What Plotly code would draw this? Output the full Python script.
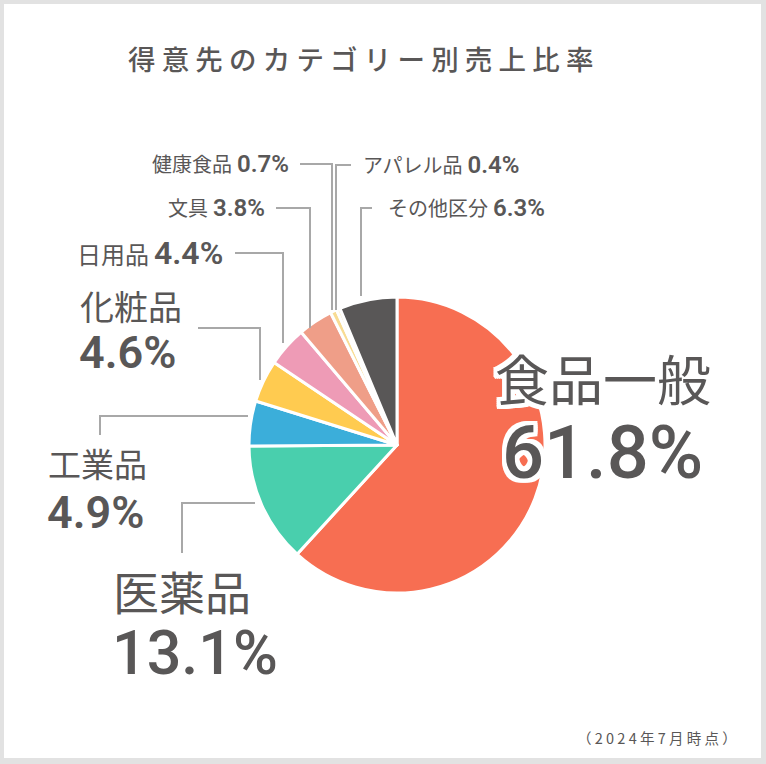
import plotly.graph_objects as go

W, H = 766, 764

# ---- data ----
categories = ["食品一般", "医薬品", "工業品", "化粧品", "日用品", "文具", "健康食品", "アパレル品", "その他区分"]
shares = [61.8, 13.1, 4.9, 4.6, 4.4, 3.8, 0.7, 0.4, 6.3]
colors = ["#F76E52", "#49CFAD", "#3BAEDA", "#FFCB50", "#EE9BB6", "#EF9E88", "#F8DC93", "#FCEFC6", "#595757"]
title_text = "得意先のカテゴリー別売上比率"
note_text = "（2024年7月時点）"

TXT = "#595757"
LINE = "#A8A8A8"
JP = "Noto Sans CJK JP"
NUM = "Roboto, Noto Sans CJK JP"


def px(x):
    return x / W


def py(y):
    return 1 - y / H


fig = go.Figure(go.Pie(
    labels=categories,
    values=shares,
    sort=False,
    direction="clockwise",
    rotation=0,
    marker=dict(colors=colors, line=dict(color="white", width=3)),
    textinfo="none",
    hoverinfo="skip",
    showlegend=False,
    domain=dict(x=[px(249), px(545)], y=[py(593), py(297)]),
))

shapes = [dict(type="rect", xref="paper", yref="paper", x0=px(4), x1=px(761), y0=py(758), y1=py(4),
               fillcolor="white", line=dict(width=0), layer="below")]


def leader(points):
    path = "M " + " L ".join(f"{px(x)},{py(y)}" for x, y in points)
    shapes.append(dict(type="path", xref="paper", yref="paper", path=path,
                       line=dict(color=LINE, width=2)))


leader([(300, 164), (332, 164), (332, 310)])   # 健康食品
leader([(351, 165), (336, 165), (336, 310)])   # アパレル品
leader([(276, 208), (310, 208), (310, 328)])   # 文具
leader([(235, 253), (283, 253), (283, 343)])   # 日用品
leader([(372, 208), (361, 208), (361, 296)])   # その他区分
leader([(198, 328), (260, 328), (260, 380)])   # 化粧品
leader([(248, 416), (100, 416), (100, 435)])   # 工業品
leader([(255, 503), (182, 503), (182, 553)])   # 医薬品

ann = []


def label(x, y, text, anchor, size=20, family=NUM, weight=None, shadow=None):
    f = dict(family=family, size=size, color=TXT)
    if weight:
        f["weight"] = weight
    if shadow:
        f["shadow"] = shadow
    ann.append(dict(x=px(x), y=py(y), xref="paper", yref="paper", text=text, showarrow=False,
                    xanchor=anchor, yanchor="middle", font=f))


def pct(v):
    return f"{v:.1f}%"


def small(name, v, jp_size, num_size):
    return (f"<span style='font-size:{jp_size}px'>{name}</span> "
            f"<span style='font-size:{num_size}px;font-weight:600'>{pct(v)}</span>")


# title
ann.append(dict(x=px(360), y=py(58), xref="paper", yref="paper", text=" ".join(title_text),
                showarrow=False, xanchor="center", yanchor="middle",
                font=dict(family=JP, size=27.5, color="#595757", weight=500)))
# footnote
ann.append(dict(x=px(739), y=py(737), xref="paper", yref="paper", text=" ".join(note_text),
                showarrow=False, xanchor="right", yanchor="middle",
                font=dict(family=JP, size=14.5, color="#595757")))

# small labels
label(291, 164, small(categories[6], shares[6], 20, 24), "right")
label(267, 208, small(categories[5], shares[5], 20, 24), "right")
label(225, 253, small(categories[4], shares[4], 24, 32), "right")
label(361, 165, small(categories[7], shares[7], 20, 24), "left")
label(386, 208, small(categories[8], shares[8], 20, 24), "left")

# medium labels
label(78, 305, categories[3], "left", size=34, family=JP)
label(77, 352, pct(shares[3]), "left", size=45, weight=600)
label(46, 463, categories[2], "left", size=33, family=JP)
label(45, 512, pct(shares[2]), "left", size=45, weight=600)

# big labels
label(111, 590, categories[1], "left", size=46, family=JP)
label(110, 653, pct(shares[1]), "left", size=61, weight=500)

outline = ", ".join(f"{dx}px {dy}px 0 white" for dx in (-4, -2, 0, 2, 4) for dy in (-4, -2, 0, 2, 4))
label(493, 377, categories[0], "left", size=54, family=JP, shadow=outline)
label(500, 452, pct(shares[0]), "left", size=74, weight=500, shadow=outline)

fig.update_layout(
    width=W, height=H,
    margin=dict(l=0, r=0, t=0, b=0),
    paper_bgcolor="#E2E2E2",
    plot_bgcolor="white",
    shapes=shapes,
    annotations=ann,
)

fig.write_html("out.html", config={"displayModeBar": False},
               post_script="document.body.style.margin='0';document.body.style.overflow='hidden';")
